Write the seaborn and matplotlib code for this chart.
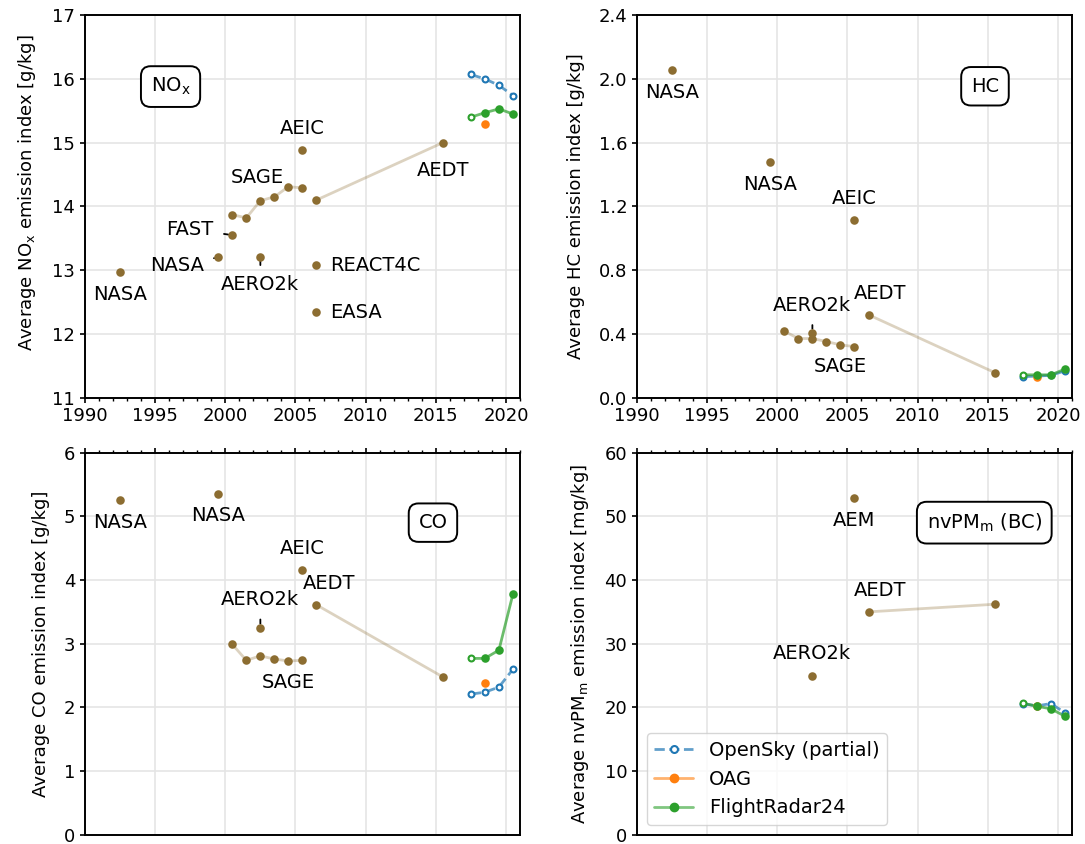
import numpy as np
import pandas as pd
import matplotlib
matplotlib.use('Agg')
import matplotlib.pyplot as plt
import seaborn as sns
from matplotlib.lines import Line2D
from matplotlib.ticker import MultipleLocator
from matplotlib.colors import to_rgba

# years
modern_years = [2017.5, 2018.5, 2019.5, 2020.5]
oag_years = [2018.5]
sage_years = [2000.5, 2001.5, 2002.5, 2003.5, 2004.5, 2005.5]
aedt_years = [2006.5, 2015.5]

# NOx [g/kg]
nox_names = ['NASA', 'NASA', 'FAST', 'AEIC', 'AERO2k', 'REACT4C', 'EASA']
nox_years = [1992.5, 1999.5, 2000.5, 2005.5, 2002.5, 2006.5, 2006.5]
nox_values = [12.97, 13.20, 13.55, 14.89, 13.21, 13.08, 12.34]
nox_sage = [13.87, 13.82, 14.09, 14.15, 14.31, 14.29]
nox_aedt = [14.10, 15.00]
nox_opensky = [16.07, 16.00, 15.90, 15.74]
nox_oag = [15.29]
nox_fr24 = [15.40, 15.47, 15.53, 15.45]

# HC [g/kg]
hc_names = ['NASA', 'NASA', 'AEIC', 'AERO2k']
hc_years = [1992.5, 1999.5, 2005.5, 2002.5]
hc_values = [2.057, 1.476, 1.113, 0.406]
hc_sage = [0.417, 0.371, 0.371, 0.352, 0.331, 0.320]
hc_aedt = [0.520, 0.157]
hc_opensky = [0.132, 0.135, 0.140, 0.168]
hc_oag = [0.128]
hc_fr24 = [0.143, 0.143, 0.143, 0.179]

# CO [g/kg]
co_names = ['NASA', 'NASA', 'AEIC', 'AERO2k']
co_years = [1992.5, 1999.5, 2005.5, 2002.5]
co_values = [5.25, 5.35, 4.15, 3.25]
co_sage = [2.99, 2.74, 2.81, 2.76, 2.73, 2.74]
co_aedt = [3.61, 2.48]
co_opensky = [2.21, 2.24, 2.32, 2.60]
co_oag = [2.39]
co_fr24 = [2.77, 2.77, 2.90, 3.78]

# nvPM mass [mg/kg]
pm_names = ['AEM', 'AERO2k']
pm_years = [2005.5, 2002.5]
pm_values = [52.8, 25.0]
pm_aedt = [35.0, 36.2]
pm_opensky = [20.60, 20.25, 20.62, 19.16]
pm_oag = [20.3]
pm_fr24 = [20.67, 20.20, 19.79, 18.63]

c_inv = '#8c6d31'
c_os = '#1f77b4'
c_oag = '#ff7f0e'
c_fr = '#2ca02c'

sns.set_style('ticks', {'axes.grid': True, 'grid.color': '#e5e5e5',
                        'axes.edgecolor': 'black', 'xtick.color': 'black',
                        'ytick.color': 'black', 'text.color': 'black',
                        'axes.labelcolor': 'black'})
plt.rcParams['font.family'] = ['DejaVu Sans']
plt.rcParams['font.size'] = 13
plt.rcParams['axes.linewidth'] = 1.4
plt.rcParams['grid.linewidth'] = 1.2
plt.rcParams['xtick.major.width'] = 1.2
plt.rcParams['ytick.major.width'] = 1.2
plt.rcParams['xtick.minor.width'] = 1.0
plt.rcParams['xtick.labelsize'] = 13
plt.rcParams['ytick.labelsize'] = 13
FS = 14


def line(ax, x, y, color, alpha, ls='-'):
    df = pd.DataFrame({'year': x, 'value': y})
    sns.lineplot(data=df, x='year', y='value', ax=ax, color=color, alpha=alpha,
                 lw=2, linestyle=ls, zorder=2)


def dots(ax, x, y, color, hollow=False):
    df = pd.DataFrame({'year': x, 'value': y})
    if hollow:
        sns.scatterplot(data=df, x='year', y='value', ax=ax, color=color, facecolor='white',
                        edgecolor=color, linewidth=1.5, s=18, zorder=4)
    else:
        sns.scatterplot(data=df, x='year', y='value', ax=ax, color=color,
                        edgecolor=color, linewidth=0, s=38, zorder=4)


def modern(ax, opensky, oag, fr24):
    line(ax, modern_years, opensky, c_os, 0.7, '--')
    dots(ax, modern_years, opensky, c_os, hollow=True)
    dots(ax, oag_years, oag, c_oag)
    line(ax, modern_years, fr24, c_fr, 0.7)
    dots(ax, modern_years[:1], fr24[:1], c_fr, hollow=True)
    dots(ax, modern_years[1:], fr24[1:], c_fr)


def label(ax, text, xy, pos, ha='center', dashed=False):
    if dashed:
        ax.annotate(text, xy=xy, xytext=pos, ha=ha, va='center', fontsize=FS,
                    arrowprops=dict(arrowstyle='-', ls='--', color='k', lw=1.3,
                                    shrinkA=5, shrinkB=3))
    else:
        ax.text(pos[0], pos[1], text, ha=ha, va='center', fontsize=FS)


def tag(ax, text, pos):
    ax.text(pos[0], pos[1], text, ha='center', va='center', fontsize=FS,
            bbox=dict(boxstyle='round,pad=0.5', fc='white', ec='black', lw=1.4))


fig, axes = plt.subplots(2, 2, figsize=(10.85, 8.44), dpi=100)
fig.subplots_adjust(left=0.0783, right=0.988, bottom=0.0107, top=0.982,
                    wspace=0.269, hspace=0.1436)
ax_nox, ax_hc = axes[0]
ax_co, ax_pm = axes[1]

# NOx
ax = ax_nox
line(ax, sage_years, nox_sage, c_inv, 0.3)
line(ax, aedt_years, nox_aedt, c_inv, 0.3)
dots(ax, sage_years, nox_sage, c_inv)
dots(ax, aedt_years, nox_aedt, c_inv)
dots(ax, nox_years, nox_values, c_inv)
modern(ax, nox_opensky, nox_oag, nox_fr24)
nox_pos = [(1992.5, 12.62, 'center', False), (1996.55, 13.08, 'center', True),
           (1997.5, 13.64, 'center', True), (2005.5, 15.23, 'center', False),
           (2002.5, 12.77, 'center', True), (2007.45, 13.08, 'left', False),
           (2007.45, 12.34, 'left', False)]
for n, x, y, (tx, ty, ha, d) in zip(nox_names, nox_years, nox_values, nox_pos):
    label(ax, n, (x, y), (tx, ty), ha, d)
label(ax, 'SAGE', None, (2002.3, 14.46))
label(ax, 'AEDT', None, (2015.5, 14.57))
tag(ax, 'NO$_\\mathrm{x}$', (1996.1, 15.88))
ax.set_ylim(11, 17)
ax.set_yticks(range(11, 18))
ax.set_ylabel('Average NO$_\\mathrm{x}$ emission index [g/kg]', labelpad=10)
ax.yaxis.label.set_y(0.536)

# HC
ax = ax_hc
line(ax, sage_years, hc_sage, c_inv, 0.3)
line(ax, aedt_years, hc_aedt, c_inv, 0.3)
dots(ax, sage_years, hc_sage, c_inv)
dots(ax, aedt_years, hc_aedt, c_inv)
dots(ax, hc_years, hc_values, c_inv)
modern(ax, hc_opensky, hc_oag, hc_fr24)
hc_pos = [(1992.5, 1.917, 'center', False), (1999.5, 1.338, 'center', False),
          (2005.5, 1.25, 'center', False), (2002.5, 0.579, 'center', True)]
for n, x, y, (tx, ty, ha, d) in zip(hc_names, hc_years, hc_values, hc_pos):
    label(ax, n, (x, y), (tx, ty), ha, d)
label(ax, 'SAGE', None, (2004.5, 0.195))
label(ax, 'AEDT', None, (2007.35, 0.656))
tag(ax, 'HC', (2014.8, 1.954))
ax.set_ylim(0, 2.4)
ax.set_yticks(np.arange(0, 2.41, 0.4))
ax.set_ylabel('Average HC emission index [g/kg]', labelpad=10)

# CO
ax = ax_co
line(ax, sage_years, co_sage, c_inv, 0.3)
line(ax, aedt_years, co_aedt, c_inv, 0.3)
dots(ax, sage_years, co_sage, c_inv)
dots(ax, aedt_years, co_aedt, c_inv)
dots(ax, co_years, co_values, c_inv)
modern(ax, co_opensky, co_oag, co_fr24)
co_pos = [(1992.5, 4.91, 'center', False), (1999.5, 5.01, 'center', False),
          (2005.5, 4.50, 'center', False), (2002.5, 3.69, 'center', True)]
for n, x, y, (tx, ty, ha, d) in zip(co_names, co_years, co_values, co_pos):
    label(ax, n, (x, y), (tx, ty), ha, d)
label(ax, 'SAGE', None, (2004.5, 2.39))
label(ax, 'AEDT', None, (2007.4, 3.95))
tag(ax, 'CO', (2014.8, 4.90))
ax.set_ylim(0, 6)
ax.set_yticks(range(0, 7))
ax.set_ylabel('Average CO emission index [g/kg]', labelpad=10)

# nvPM
ax = ax_pm
line(ax, aedt_years, pm_aedt, c_inv, 0.3)
dots(ax, aedt_years, pm_aedt, c_inv)
dots(ax, pm_years, pm_values, c_inv)
modern(ax, pm_opensky, pm_oag, pm_fr24)
pm_pos = [(2005.5, 49.3, 'center', False), (2002.5, 28.4, 'center', False)]
for n, x, y, (tx, ty, ha, d) in zip(pm_names, pm_years, pm_values, pm_pos):
    label(ax, n, (x, y), (tx, ty), ha, d)
label(ax, 'AEDT', None, (2007.35, 38.4))
tag(ax, 'nvPM$_\\mathrm{m}$ (BC)', (2014.75, 49.0))
ax.set_ylim(0, 60)
ax.set_yticks(range(0, 61, 10))
ax.set_ylabel('Average nvPM$_\\mathrm{m}$ emission index [mg/kg]', labelpad=10)

handles = [
    Line2D([], [], color=to_rgba(c_os, 0.7), ls='--', lw=2, marker='o', mfc='white',
           mec=c_os, mew=1.5, ms=5),
    Line2D([], [], color=to_rgba(c_oag, 0.6), lw=2, marker='o', mfc=c_oag, mec=c_oag, ms=6),
    Line2D([], [], color=to_rgba(c_fr, 0.6), lw=2, marker='o', mfc=c_fr, mec=c_fr, ms=6),
]
ax_pm.legend(handles, ['OpenSky (partial)', 'OAG', 'FlightRadar24'], loc='lower left', fontsize=FS)

for ax in axes.flat:
    ax.set_xlim(1990, 2021)
    ax.set_xticks(range(1990, 2021, 5))
    ax.xaxis.set_minor_locator(MultipleLocator(1))
    ax.set_xlabel('')
for ax in axes[1]:
    ax.xaxis.tick_top()
    ax.tick_params(axis='x', which='both', labeltop=False, labelbottom=False)

fig.savefig('out.png', dpi=100)
